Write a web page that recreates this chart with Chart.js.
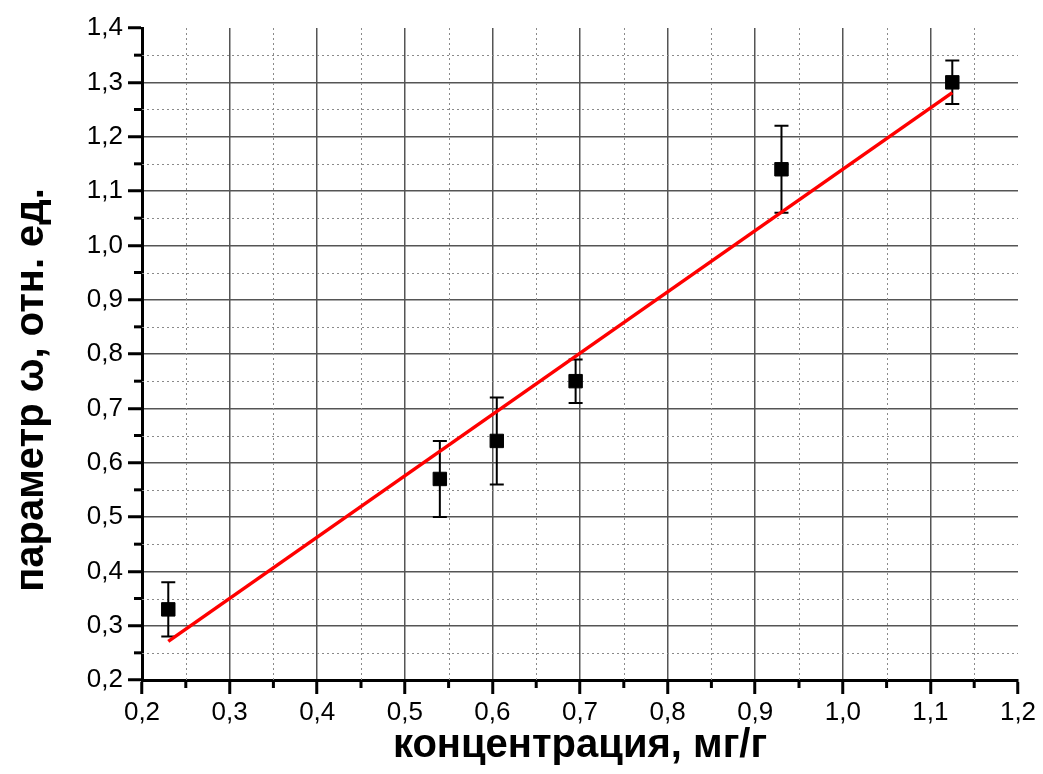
<!DOCTYPE html>
<html>
<head>
<meta charset="utf-8">
<script src="https://cdn.jsdelivr.net/npm/chart.js@4/dist/chart.umd.min.js"></script>
<style>
  html, body { margin: 0; padding: 0; background: #fff; }
  #wrap { width: 1043px; height: 774px; }
</style>
</head>
<body>
<div id="wrap"><canvas id="c"></canvas></div>
<script>
// точки измерений
const conc = [0.23, 0.54, 0.605, 0.695, 0.93, 1.125];
const omega = [0.33, 0.57, 0.64, 0.75, 1.14, 1.30];
const errLow = [0.28, 0.50, 0.56, 0.71, 1.06, 1.26];
const errHigh = [0.38, 0.64, 0.72, 0.79, 1.22, 1.34];

// линия аппроксимации
const fitX = [0.23, 1.125];
const fitY = [0.271, 1.281];

const xMin = 0.2, xMax = 1.2, xStep = 0.1;
const yMin = 0.2, yMax = 1.4, yStep = 0.1;

const fmt = v => v.toFixed(1).replace('.', ',');

// пунктирная дополнительная сетка, короткие засечки, погрешности
const minorGrid = {
  id: 'minorGrid',
  beforeDatasetsDraw(chart) {
    const { ctx, chartArea: a, scales: { x, y } } = chart;
    ctx.save();
    ctx.strokeStyle = '#8a8a8a';
    ctx.lineWidth = 1;
    ctx.setLineDash([2, 3]);
    for (let v = xMin + xStep / 2; v < xMax; v += xStep) {
      const px = Math.round(x.getPixelForValue(v)) + 0.5;
      ctx.beginPath(); ctx.moveTo(px, a.top); ctx.lineTo(px, a.bottom); ctx.stroke();
    }
    for (let v = yMin + yStep / 2; v < yMax; v += yStep) {
      const py = Math.round(y.getPixelForValue(v)) + 0.5;
      ctx.beginPath(); ctx.moveTo(a.left, py); ctx.lineTo(a.right, py); ctx.stroke();
    }
    ctx.setLineDash([]);
    ctx.strokeStyle = '#000';
    ctx.lineWidth = 3;
    for (let v = xMin + xStep / 2; v < xMax; v += xStep) {
      const px = x.getPixelForValue(v);
      ctx.beginPath(); ctx.moveTo(px, a.bottom); ctx.lineTo(px, a.bottom + 8); ctx.stroke();
    }
    for (let v = yMin + yStep / 2; v < yMax; v += yStep) {
      const py = y.getPixelForValue(v);
      ctx.beginPath(); ctx.moveTo(a.left, py); ctx.lineTo(a.left - 8, py); ctx.stroke();
    }

    ctx.strokeStyle = '#000';
    ctx.lineWidth = 2;
    conc.forEach((cx, i) => {
      const px = x.getPixelForValue(cx);
      const top = y.getPixelForValue(errHigh[i]);
      const bot = y.getPixelForValue(errLow[i]);
      ctx.beginPath();
      ctx.moveTo(px, top); ctx.lineTo(px, bot);
      ctx.moveTo(px - 7, top); ctx.lineTo(px + 7, top);
      ctx.moveTo(px - 7, bot); ctx.lineTo(px + 7, bot);
      ctx.stroke();
    });
    ctx.restore();
  }
};

// подпись оси Y
const yTitle = {
  id: 'yTitle',
  afterDraw(chart) {
    const { ctx } = chart;
    ctx.save();
    ctx.translate(32, 390);
    ctx.rotate(-Math.PI / 2);
    ctx.font = 'bold 40px "Liberation Sans", Arial, sans-serif';
    ctx.fillStyle = '#000';
    ctx.textAlign = 'center';
    ctx.textBaseline = 'middle';
    ctx.fillText('параметр ω, отн. ед.', 0, 0);
    ctx.restore();
  }
};

const tickFont = { family: '"Liberation Sans", Arial, sans-serif', size: 26 };

new Chart(document.getElementById('c'), {
  type: 'scatter',
  data: {
    datasets: [
      {
        type: 'line',
        data: fitX.map((v, i) => ({ x: v, y: fitY[i] })),
        borderColor: '#ff0000',
        borderWidth: 3.5,
        pointRadius: 0,
        fill: false,
      },
      {
        data: conc.map((v, i) => ({ x: v, y: omega[i] })),
        pointStyle: 'rect',
        pointRadius: 9.5,
        pointBorderWidth: 1,
        backgroundColor: '#000',
        borderColor: '#000',
      },
    ],
  },
  options: {
    responsive: true,
    maintainAspectRatio: false,
    animation: false,
    layout: { padding: { left: 0, top: 28, right: 25, bottom: 0 } },
    plugins: {
      legend: { display: false },
      tooltip: { enabled: false },
    },
    scales: {
      x: {
        type: 'linear',
        min: xMin,
        max: xMax,
        afterFit: s => { s.height = 94; },
        ticks: {
          stepSize: xStep,
          autoSkip: false,
          maxRotation: 0,
          padding: 3,
          color: '#000',
          font: tickFont,
          callback: v => fmt(v),
        },
        grid: {
          color: c => (c.tick && Math.abs(c.tick.value - xMax) < 1e-6 ? 'rgba(0,0,0,0)' : '#555'),
          lineWidth: 1.5,
          tickLength: 14,
          tickWidth: 3,
          tickColor: '#000',
        },
        border: { color: '#000', width: 3 },
        title: {
          display: true,
          text: 'концентрация, мг/г',
          color: '#000',
          font: { family: '"Liberation Sans", Arial, sans-serif', size: 40, weight: 'bold' },
          padding: { top: 0, bottom: 4 },
        },
      },
      y: {
        type: 'linear',
        min: yMin,
        max: yMax,
        afterFit: s => { s.width = 142; },
        ticks: {
          stepSize: yStep,
          autoSkip: false,
          padding: 5,
          color: '#000',
          font: tickFont,
          callback: v => fmt(v),
        },
        grid: {
          color: c => (c.tick && Math.abs(c.tick.value - yMax) < 1e-6 ? 'rgba(0,0,0,0)' : '#555'),
          lineWidth: 1.5,
          tickLength: 14,
          tickWidth: 3,
          tickColor: '#000',
        },
        border: { color: '#000', width: 3 },
      },
    },
  },
  plugins: [minorGrid, yTitle],
});
</script>
</body>
</html>
